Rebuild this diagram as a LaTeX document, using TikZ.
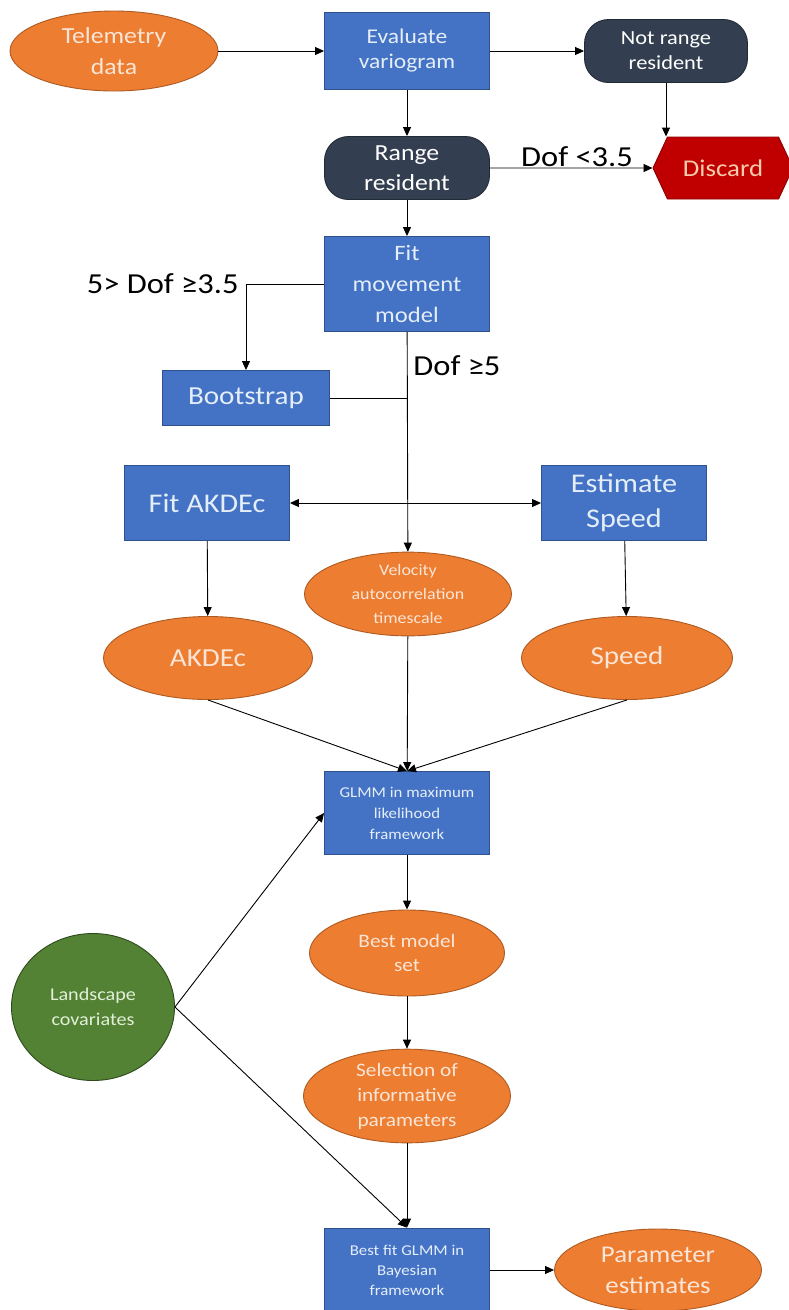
\documentclass[tikz,border=0pt]{standalone}
\usepackage{fontspec}
\setmainfont{Carlito}[FakeStretch=1.12]
\usepackage{tikz}
\usetikzlibrary{shapes,arrows,arrows.meta,positioning,shapes.symbols}

\definecolor{orng}{HTML}{ED7D31}
\definecolor{orngdk}{HTML}{AE5A21}
\definecolor{orngtxt}{HTML}{FBE5D6}
\definecolor{blu}{HTML}{4472C4}
\definecolor{bludk}{HTML}{2F528F}
\definecolor{blutxt}{HTML}{E4EEF9}
\definecolor{slate}{HTML}{333F50}
\definecolor{slatedk}{HTML}{222A35}
\definecolor{discred}{HTML}{C00000}
\definecolor{discdk}{HTML}{8B0000}
\definecolor{disctxt}{HTML}{F8CBAD}
\definecolor{grn}{HTML}{548235}
\definecolor{grndk}{HTML}{2E4A1C}
\definecolor{grntxt}{HTML}{E2F0D9}

\newcommand{\txtsize}[2]{\fontsize{#1pt}{#2pt}\selectfont}

\begin{document}
\begin{tikzpicture}[x=1pt,y=-1pt,>={Triangle[length=9pt,width=8pt]},line width=0.9pt,
    box/.style={rectangle,draw=bludk,fill=blu,text=blutxt,align=center,inner sep=2,minimum width=165},
    oval/.style={ellipse,draw=orngdk,fill=orng,text=orngtxt,align=center,inner sep=0},
    dark/.style={rectangle,rounded corners=24,draw=slatedk,fill=slate,text=white,align=center,inner sep=2,minimum width=163,minimum height=63},
    cond/.style={text=black,inner sep=0,font=\txtsize{29}{33}}]
    \useasboundingbox (0,0) rectangle (789,1310);

    % top row
    \node[oval,minimum width=208,minimum height=80,font=\txtsize{23}{31}] (tel) at (114,51) {Telemetry\\data};
    \node[box,minimum height=77,font=\txtsize{21}{25}] (eval) at (407,51) {Evaluate\\variogram};
    \node[dark,font=\txtsize{20}{25}] (nrr) at (666,51) {Not range\\resident};
    \node[dark,minimum width=165,font=\txtsize{23}{30}] (rr) at (407,168) {Range\\resident};
    \node[signal,signal to=west and east,signal pointer angle=130,draw=discdk,fill=discred,text=disctxt,
          minimum width=140,minimum height=62,font=\txtsize{24}{28}] (disc) at (723,168) {Discard};
    \node[cond,anchor=south] (lt) at (577,167) {Dof <3.5};

    % movement model
    \node[box,minimum height=95,font=\txtsize{22}{31}] (fit) at (407,284) {Fit\\movement\\model};
    \node[box,minimum width=167,minimum height=55,font=\txtsize{26}{30}] (boot) at (246,398) {Bootstrap};
    \node[cond,anchor=east] (mid) at (239,284) {5> Dof ≥3.5};
    \node[cond,anchor=west] (hi) at (413,366) {Dof ≥5};

    % estimates
    \node[box,minimum height=75,font=\txtsize{27}{35}] (akde) at (207,503) {Fit AKDEc};
    \node[box,minimum height=75,font=\txtsize{27}{35}] (est) at (624,503) {Estimate\\Speed};
    \node[oval,minimum width=207,minimum height=83,font=\txtsize{16}{24}] (vel) at (408,594) {Velocity\\autocorrelation\\timescale};
    \node[oval,minimum width=209,minimum height=83,font=\txtsize{26}{30}] (akd) at (208,658) {AKDEc};
    \node[oval,minimum width=211,minimum height=83,font=\txtsize{26}{30}] (spd) at (627,658) {Speed};

    % models
    \node[box,minimum height=83,font=\txtsize{15}{21}] (glmm) at (407,813) {GLMM in maximum\\likelihood\\framework};
    \node[oval,minimum width=195,minimum height=86,font=\txtsize{19}{24}] (best) at (407,953) {Best model\\set};
    \node[ellipse,draw=grndk,fill=grn,text=grntxt,align=center,inner sep=0,
          minimum width=163,minimum height=147,font=\txtsize{18}{25}] (land) at (93,1007) {Landscape\\covariates};
    \node[oval,minimum width=207,minimum height=88,font=\txtsize{19}{25}] (sel) at (407,1096) {Selection of\\informative\\parameters};
    \node[box,minimum height=84,font=\txtsize{15}{20}] (bfit) at (407,1270) {Best fit GLMM in\\Bayesian\\framework};
    \node[oval,minimum width=207,minimum height=82,font=\txtsize{24}{31}] (par) at (658,1270) {Parameter\\estimates};

    \draw[->] (tel) -- (eval);
    \draw[->] (eval) -- (nrr);
    \draw[->] (eval) -- (rr);
    \draw[->] (nrr.south) -- (nrr.south |- disc.north);
    \draw[->] (rr) -- (disc);
    \draw[->] (rr) -- (fit);
    \draw[->] (fit.west) -| (boot.north);
    \draw[->] (fit) -- (vel);
    \draw (boot.east) -- (boot.east -| fit.south);
    \draw[<->] (akde) -- (est);
    \draw[->] (akde) -- (akd);
    \draw[->] (est) -- (spd);
    \draw[->] (akd.south) -- (glmm.north);
    \draw[->] (vel) -- (glmm);
    \draw[->] (spd.south) -- (glmm.north);
    \draw[->] (glmm) -- (best);
    \draw[->] (best) -- (sel);
    \draw[->] (sel) -- (bfit);
    \draw[->] (land.east) -- (glmm.west);
    \draw[->] (land.east) -- (bfit.north);
    \draw[->] (bfit) -- (par);
\end{tikzpicture}
\end{document}
